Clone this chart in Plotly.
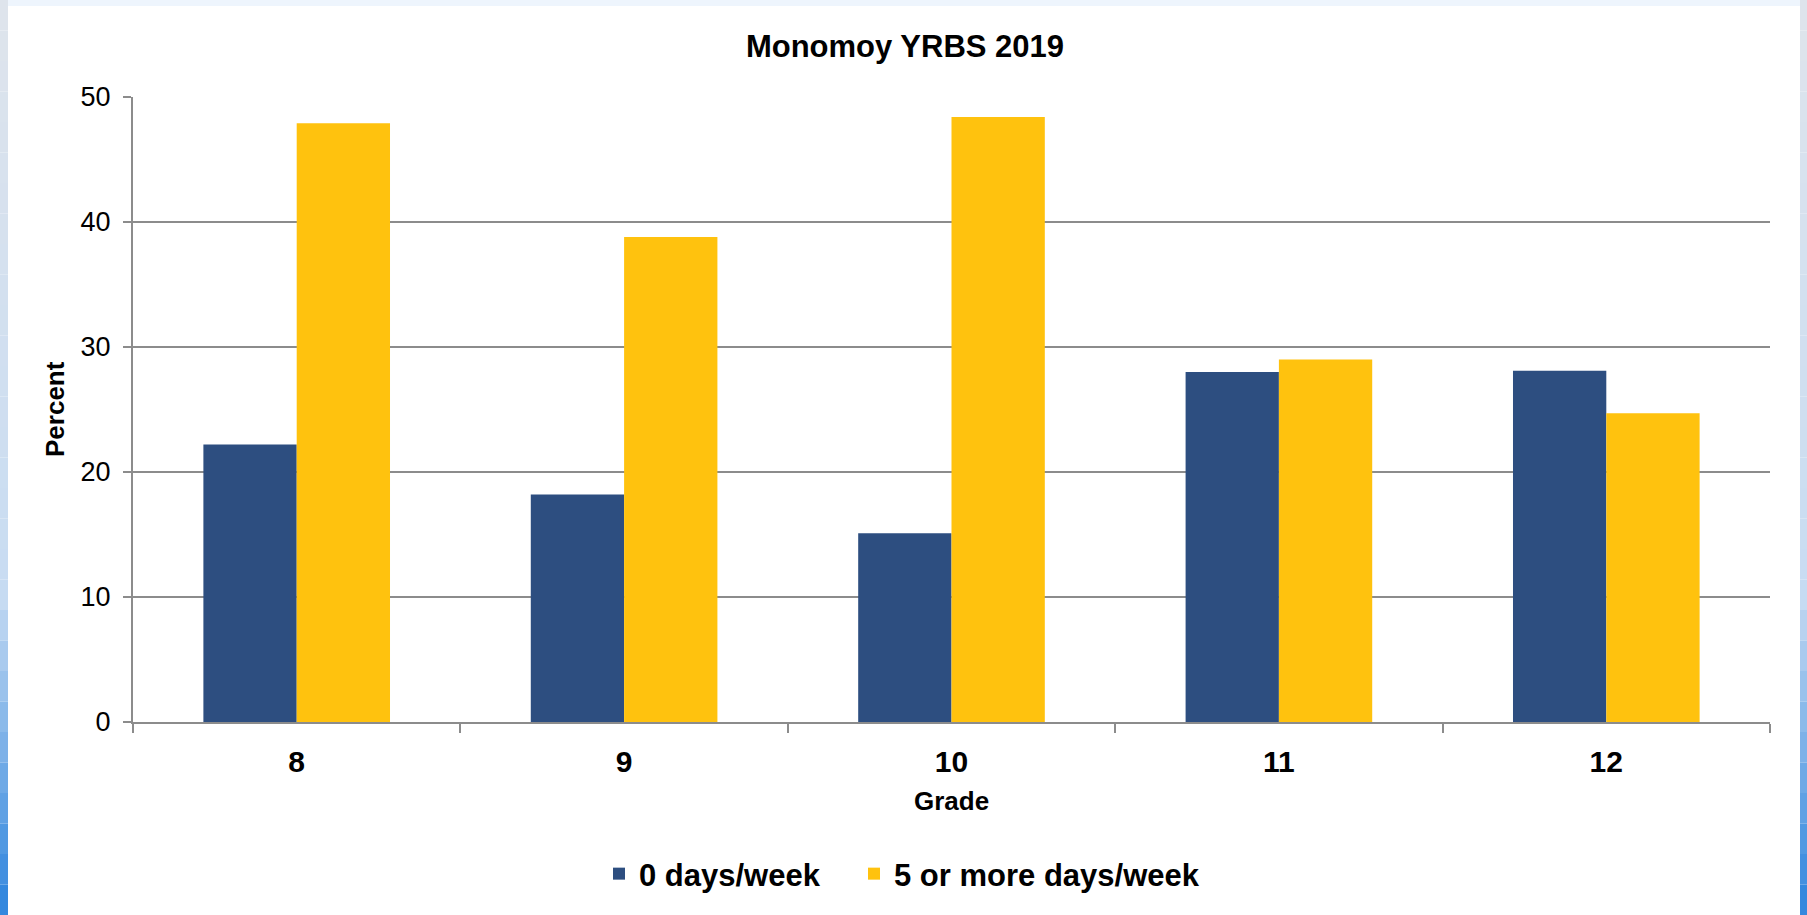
import plotly.graph_objects as go

# Survey results by grade
grades = ["8", "9", "10", "11", "12"]
zero_days = [22.2, 18.2, 15.1, 28.0, 28.1]
five_plus_days = [47.9, 38.8, 48.4, 29.0, 24.7]
series_names = ["0 days/week", "5 or more days/week"]
y_ticks = [0, 10, 20, 30, 40, 50]

W, H = 1807, 915
L, R, T, B = 133, 37, 97, 193
PW, PH = W - L - R, H - T - B

BLUE = "#2D4E80"
GOLD = "#FFC20E"
GRID = "#8C8C8C"
FONT = "Liberation Sans, Arial, sans-serif"


def px_x(px):
    return (px - L) / PW


def px_y(py):
    return (H - B - py) / PH


fig = go.Figure()
fig.add_trace(go.Bar(x=grades, y=zero_days, name=series_names[0], legend="legend",
                     marker=dict(color=BLUE, line=dict(width=0))))
fig.add_trace(go.Bar(x=grades, y=five_plus_days, name=series_names[1], legend="legend2",
                     marker=dict(color=GOLD, line=dict(width=0))))

# window frame: light top strip and blue side strips with a vertical fade
shapes = [dict(type="rect", xref="paper", yref="paper", x0=px_x(0), x1=px_x(W),
               y0=px_y(0), y1=px_y(6), fillcolor="#EEF5FD", line=dict(width=0),
               layer="below")]


def lerp(c1, c2, t):
    return "#%02X%02X%02X" % tuple(int(round(a + (b - a) * t)) for a, b in zip(c1, c2))


top_c = (222, 228, 236)
mid_c = (200, 220, 242)
bot_c = (52, 136, 222)
n = 30
for i in range(n):
    y0 = i * H / n
    y1 = (i + 1) * H / n
    t = i / (n - 1)
    if t < 0.65:
        col = lerp(top_c, mid_c, t / 0.65)
    else:
        col = lerp(mid_c, bot_c, (t - 0.65) / 0.35)
    for xa, xb in ((0, 8), (1800, W)):
        shapes.append(dict(type="rect", xref="paper", yref="paper",
                           x0=px_x(xa), x1=px_x(xb), y0=px_y(y1), y1=px_y(y0),
                           fillcolor=col, line=dict(width=0), layer="below"))

legend_style = dict(orientation="h", xref="container", xanchor="left",
                    yref="container", y=1 - 874 / H, yanchor="middle",
                    font=dict(size=31, weight="bold", family=FONT),
                    itemwidth=30, bgcolor="rgba(0,0,0,0)")

fig.update_layout(
    width=W, height=H,
    margin=dict(l=L, r=R, t=T, b=B, autoexpand=False),
    paper_bgcolor="white", plot_bgcolor="white",
    barmode="group", bargap=0.43, bargroupgap=0,
    font=dict(family=FONT, color="black"),
    title=dict(text="Monomoy YRBS 2019", x=905 / W, xref="container", xanchor="center",
               y=1 - 46 / H, yref="container", yanchor="middle",
               font=dict(size=31, weight="bold", family=FONT)),
    showlegend=True,
    legend=dict(x=599 / W, **legend_style),
    legend2=dict(x=854 / W, **legend_style),
    shapes=shapes,
    annotations=[
        dict(text="Percent", textangle=-90, xref="paper", yref="paper",
             x=px_x(55), y=px_y(409), xanchor="center", yanchor="middle",
             showarrow=False, font=dict(size=26, weight="bold", family=FONT)),
        dict(text="Grade", xref="paper", yref="paper",
             x=0.5, y=px_y(801), xanchor="center", yanchor="middle",
             showarrow=False, font=dict(size=26, weight="bold", family=FONT)),
    ],
)

fig.update_xaxes(
    type="category", showline=True, linecolor=GRID, linewidth=2,
    ticks="outside", tickson="boundaries", ticklen=9, tickwidth=2, tickcolor=GRID,
    showgrid=False, zeroline=False, ticklabelstandoff=12,
    tickfont=dict(size=30, weight="bold", family=FONT), automargin=False,
)
fig.update_yaxes(
    range=[0, 50], tickvals=y_ticks, showline=True, linecolor=GRID, linewidth=2,
    ticks="outside", ticklen=8, tickwidth=2, tickcolor=GRID,
    showgrid=True, gridcolor=GRID, gridwidth=2, zeroline=False,
    ticklabelstandoff=7,
    tickfont=dict(size=27, family=FONT), automargin=False,
)

fig.write_html("out.html")
